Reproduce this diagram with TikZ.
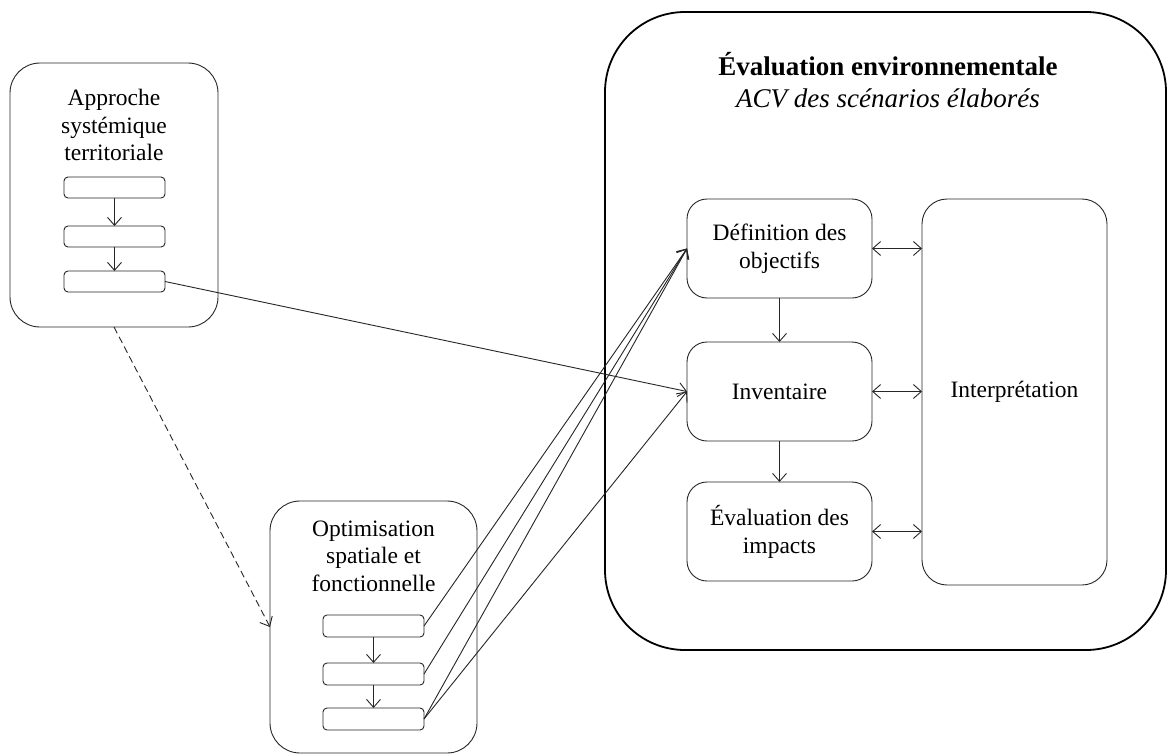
\documentclass[tikz,border=0pt]{standalone}
\usepackage{fontspec}
\setmainfont{Liberation Serif}
\usetikzlibrary{arrows.meta}
\begin{document}
\begin{tikzpicture}[x=1pt,y=-1pt,
  frame/.style={draw=black!85, line width=0.9pt, rounded corners=#1, inner sep=0pt, outer sep=0pt},
  big/.style={frame=#1, line width=1.8pt, draw=black},
  txt/.style={align=center, inner sep=0pt, font=\fontsize{23.5}{27.5}\selectfont},
  ttl/.style={inner sep=0pt, font=\fontsize{27}{32}\selectfont\bfseries},
  sub/.style={inner sep=0pt, font=\fontsize{27}{32}\selectfont\itshape},
  tip/.tip={Straight Barb[length=8pt,width=14pt]},
  arr/.style={draw=black!85, line width=0.9pt, -tip},
  darr/.style={draw=black!85, line width=0.9pt, tip-tip},
  small/.style={frame=4pt, minimum width=101pt, minimum height=21pt},
  inner/.style={frame=20pt, minimum width=185pt, minimum height=99pt}
]
\useasboundingbox (0,0) rectangle (1169,755);
\fill[white] (0,0) rectangle (1169,755);

% Left box
\node[frame=30pt, minimum width=208pt, minimum height=264pt] (A) at (114,195) {};
\node[txt] (Atxt) at (114,125) {Approche\\systémique\\territoriale};
\node[small] (A1) at (114.5,187.5) {};
\node[small] (A2) at (114.5,236.5) {};
\node[small] (A3) at (114.5,281.5) {};

% Optimisation box
\node[frame=30pt, minimum width=207pt, minimum height=252pt] (B) at (373.5,627) {};
\node[txt] (Btxt) at (373.5,556) {Optimisation\\spatiale et\\fonctionnelle};
\node[small, minimum height=22pt] (B1) at (373.5,626) {};
\node[small, minimum height=22pt] (B2) at (373.5,674) {};
\node[small, minimum height=22pt] (B3) at (373.5,719) {};

% Environmental evaluation box
\node[big=80pt, minimum width=561pt, minimum height=638pt] (C) at (885.5,331) {};
\node[ttl] (Ctitle) at (888,64) {Évaluation environnementale};
\node[sub] (Csub) at (888,98) {ACV des scénarios élaborés};

\node[inner] (Def) at (779.5,248.5) {};
\node[txt] (Deftxt) at (779.5,248.5) {Définition des\\objectifs};
\node[inner] (Inv) at (779.5,391.5) {};
\node[txt] (Invtxt) at (779.5,391.5) {Inventaire};
\node[inner] (Eval) at (779.5,531.5) {};
\node[txt] (Evaltxt) at (779.5,532) {Évaluation des\\impacts};
\node[frame=25pt, minimum width=185pt, minimum height=386pt] (Interp) at (1014.5,392) {};
\node[txt] (Interptxt) at (1014.5,392) {Interprétation};

% internal arrows
\draw[arr] (A1) -- (A2);
\draw[arr] (A2) -- (A3);
\draw[arr] (B1) -- (B2);
\draw[arr] (B2) -- (B3);
\draw[arr] (Def) -- (Inv);
\draw[arr] (Inv) -- (Eval);
\draw[darr] (Def.east) -- (Def.east -| Interp.west);
\draw[darr] (Inv.east) -- (Inv.east -| Interp.west);
\draw[darr] (Eval.east) -- (Eval.east -| Interp.west);

% cross connectors
\draw[arr] (A3.east) -- (Inv.west);
\draw[arr, dash pattern=on 7pt off 4pt] (A.south) -- (B.west);
\draw[arr] (B1.east) -- (Def.west);
\draw[arr] (B2.east) -- (Def.west);
\draw[arr] (B3.east) -- (Def.west);
\draw[arr] (B3.east) -- (Inv.west);
\end{tikzpicture}
\end{document}
